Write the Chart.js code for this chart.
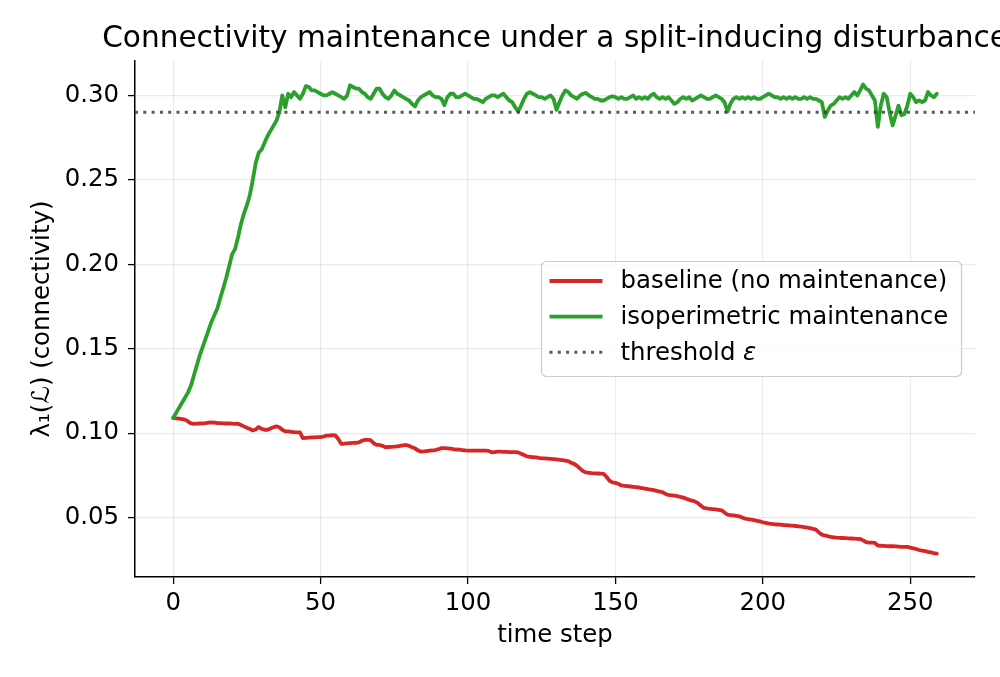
<!DOCTYPE html>
<html>
<head>
<meta charset="utf-8">
<title>Connectivity maintenance</title>
<script src="https://cdn.jsdelivr.net/npm/chart.js@4.4.1/dist/chart.umd.min.js"></script>
<style>
  html, body { margin: 0; padding: 0; background: #fff; }
  canvas { display: block; }
</style>
</head>
<body>
<canvas id="grafico" width="1000" height="677"></canvas>
<script>
// values, one per time step (0..259)
var baseline = [
  0.1090, 0.1088, 0.1086, 0.1083, 0.1080, 0.1070, 0.1058, 0.1055, 0.1056, 0.1057,
  0.1058, 0.1059, 0.1062, 0.1063, 0.1062, 0.1060, 0.1059, 0.1058, 0.1057, 0.1057,
  0.1056, 0.1055, 0.1056, 0.1048, 0.1040, 0.1032, 0.1025, 0.1016, 0.1022, 0.1036,
  0.1025, 0.1020, 0.1020, 0.1028, 0.1035, 0.1040, 0.1035, 0.1020, 0.1010, 0.1010,
  0.1008, 0.1006, 0.1005, 0.1004, 0.0970, 0.0972, 0.0974, 0.0975, 0.0975, 0.0976,
  0.0976, 0.0980, 0.0985, 0.0986, 0.0988, 0.0986, 0.0965, 0.0937, 0.0938, 0.0940,
  0.0941, 0.0942, 0.0943, 0.0945, 0.0955, 0.0960, 0.0960, 0.0958, 0.0940, 0.0930,
  0.0930, 0.0925, 0.0917, 0.0918, 0.0919, 0.0920, 0.0922, 0.0925, 0.0928, 0.0930,
  0.0925, 0.0917, 0.0910, 0.0898, 0.0891, 0.0892, 0.0894, 0.0896, 0.0898, 0.0900,
  0.0905, 0.0911, 0.0911, 0.0910, 0.0908, 0.0905, 0.0903, 0.0902, 0.0900, 0.0898,
  0.0897, 0.0897, 0.0897, 0.0897, 0.0897, 0.0897, 0.0897, 0.0895, 0.0886, 0.0888,
  0.0890, 0.0890, 0.0889, 0.0889, 0.0888, 0.0888, 0.0887, 0.0886, 0.0878, 0.0870,
  0.0862, 0.0860, 0.0858, 0.0856, 0.0853, 0.0851, 0.0850, 0.0849, 0.0848, 0.0846,
  0.0844, 0.0842, 0.0840, 0.0837, 0.0834, 0.0825, 0.0818, 0.0806, 0.0790, 0.0775,
  0.0767, 0.0765, 0.0763, 0.0762, 0.0761, 0.0760, 0.0759, 0.0740, 0.0718, 0.0708,
  0.0705, 0.0700, 0.0690, 0.0688, 0.0686, 0.0684, 0.0682, 0.0680, 0.0678, 0.0675,
  0.0672, 0.0668, 0.0665, 0.0662, 0.0658, 0.0654, 0.0650, 0.0640, 0.0634, 0.0632,
  0.0630, 0.0627, 0.0622, 0.0618, 0.0612, 0.0605, 0.0600, 0.0595, 0.0585, 0.0570,
  0.0557, 0.0554, 0.0552, 0.0550, 0.0548, 0.0546, 0.0543, 0.0530, 0.0517, 0.0515,
  0.0513, 0.0510, 0.0507, 0.0500, 0.0494, 0.0491, 0.0488, 0.0485, 0.0481, 0.0477,
  0.0472, 0.0468, 0.0464, 0.0462, 0.0460, 0.0459, 0.0458, 0.0456, 0.0455, 0.0453,
  0.0452, 0.0450, 0.0448, 0.0446, 0.0444, 0.0441, 0.0437, 0.0433, 0.0429, 0.0412,
  0.0399, 0.0394, 0.0390, 0.0385, 0.0383, 0.0381, 0.0380, 0.0379, 0.0378, 0.0377,
  0.0376, 0.0375, 0.0374, 0.0373, 0.0365, 0.0354, 0.0352, 0.0351, 0.0350, 0.0334,
  0.0333, 0.0332, 0.0331, 0.0330, 0.0330, 0.0329, 0.0328, 0.0327, 0.0326, 0.0326,
  0.0322, 0.0318, 0.0314, 0.0308, 0.0304, 0.0301, 0.0297, 0.0294, 0.0290, 0.0287
];

var isoperimetric = [
  0.1090, 0.1120, 0.1150, 0.1180, 0.1210, 0.1240, 0.1280, 0.1340, 0.1400, 0.1460,
  0.1510, 0.1560, 0.1610, 0.1660, 0.1700, 0.1740, 0.1800, 0.1860, 0.1920, 0.1990,
  0.2060, 0.2090, 0.2160, 0.2240, 0.2300, 0.2350, 0.2410, 0.2500, 0.2600, 0.2660,
  0.2680, 0.2720, 0.2760, 0.2790, 0.2820, 0.2850, 0.2900, 0.3000, 0.2930, 0.3010,
  0.2990, 0.3020, 0.3000, 0.2980, 0.3010, 0.3055, 0.3050, 0.3030, 0.3030, 0.3020,
  0.3010, 0.3000, 0.3000, 0.3010, 0.3020, 0.3010, 0.3000, 0.2990, 0.2980, 0.3000,
  0.3060, 0.3050, 0.3040, 0.3040, 0.3020, 0.3010, 0.2990, 0.2980, 0.3010, 0.3040,
  0.3040, 0.3010, 0.2990, 0.2980, 0.3000, 0.3030, 0.3010, 0.3000, 0.2990, 0.2980,
  0.2970, 0.2950, 0.2935, 0.2970, 0.2990, 0.3000, 0.3010, 0.3020, 0.3000, 0.2990,
  0.2990, 0.2980, 0.2943, 0.2990, 0.3010, 0.3010, 0.2990, 0.2990, 0.3000, 0.3010,
  0.3000, 0.2990, 0.2980, 0.2980, 0.2970, 0.2960, 0.2980, 0.2990, 0.3000, 0.3000,
  0.2990, 0.3000, 0.3010, 0.2990, 0.2970, 0.2960, 0.2930, 0.2905, 0.2940, 0.2980,
  0.3010, 0.3020, 0.3010, 0.3000, 0.2990, 0.2990, 0.2980, 0.2990, 0.3000, 0.2980,
  0.2915, 0.2960, 0.3000, 0.3030, 0.3020, 0.3000, 0.2990, 0.2980, 0.3000, 0.3010,
  0.3015, 0.3000, 0.2990, 0.2980, 0.2980, 0.2970, 0.2970, 0.2980, 0.2990, 0.2995,
  0.2990, 0.2980, 0.2990, 0.2980, 0.2980, 0.2990, 0.3000, 0.2980, 0.2990, 0.2980,
  0.2990, 0.2980, 0.3000, 0.3010, 0.2990, 0.2980, 0.2990, 0.2980, 0.2990, 0.2970,
  0.2950, 0.2960, 0.2980, 0.2990, 0.2980, 0.2990, 0.2970, 0.2980, 0.2990, 0.3000,
  0.2990, 0.2980, 0.2980, 0.2990, 0.3000, 0.2990, 0.2980, 0.2960, 0.2905, 0.2950,
  0.2980, 0.2990, 0.2980, 0.2990, 0.2980, 0.2990, 0.2980, 0.2990, 0.2980, 0.2980,
  0.2990, 0.3000, 0.3010, 0.3000, 0.2990, 0.2990, 0.2980, 0.2990, 0.2980, 0.2990,
  0.2980, 0.2990, 0.2980, 0.2980, 0.2990, 0.2980, 0.2990, 0.2980, 0.2980, 0.2970,
  0.2960, 0.2873, 0.2910, 0.2940, 0.2950, 0.2970, 0.2990, 0.2980, 0.2990, 0.2980,
  0.3000, 0.3020, 0.3000, 0.3030, 0.3065, 0.3040, 0.3030, 0.3000, 0.2970, 0.2814,
  0.2940, 0.3010, 0.2990, 0.2900, 0.2823, 0.2880, 0.2940, 0.2883, 0.2890, 0.2940,
  0.3010, 0.2990, 0.2960, 0.2970, 0.2960, 0.2970, 0.3020, 0.3000, 0.2990, 0.3010
];

var threshold = 0.29;
var xTicks = [0, 50, 100, 150, 200, 250];
var yTicks = [0.05, 0.10, 0.15, 0.20, 0.25, 0.30];
var seriesLabels = ['baseline (no maintenance)', 'isoperimetric maintenance', 'threshold \u03b5'];

var xMin = -12.95, xMax = 271.95;
var yMin = 0.0148, yMax = 0.3204;

var steps = baseline.map(function (v, i) { return i; });

function puntos(valores) {
  return valores.map(function (v, i) { return { x: steps[i], y: v }; });
}

// title centred over the axes, like matplotlib (it runs off the right edge)
var tituloPlugin = {
  id: 'tituloPlugin',
  afterDraw: function (chart) {
    var ctx = chart.ctx, a = chart.chartArea;
    ctx.save();
    ctx.font = '29.6px "DejaVu Sans"';
    ctx.fillStyle = '#000';
    ctx.textAlign = 'center';
    ctx.textBaseline = 'alphabetic';
    ctx.fillText('Connectivity maintenance under a split-inducing disturbance', (a.left + a.right) / 2, 46.5);
    ctx.restore();
  }
};

// legend box at "center right" of the axes
var leyendaPlugin = {
  id: 'leyendaPlugin',
  afterDatasetsDraw: function (chart) {
    var ctx = chart.ctx, a = chart.chartArea;
    var w = 420, h = 115;
    var x = a.right - 13.5 - w;
    var y = (a.top + a.bottom) / 2 - h / 2;
    ctx.save();
    ctx.beginPath();
    ctx.roundRect(x, y, w, h, 5);
    ctx.fillStyle = 'rgba(255,255,255,0.8)';
    ctx.fill();
    ctx.strokeStyle = '#cccccc';
    ctx.lineWidth = 1.2;
    ctx.stroke();
    ctx.textBaseline = 'middle';
    ctx.fillStyle = '#000';
    chart.data.datasets.forEach(function (ds, i) {
      var cy = y + 19.5 + i * 35.6;
      ctx.beginPath();
      ctx.setLineDash(ds.borderDash || []);
      ctx.strokeStyle = ds.borderColor;
      ctx.lineWidth = ds.borderWidth;
      ctx.moveTo(x + 8, cy);
      ctx.lineTo(x + 61, cy);
      ctx.stroke();
      ctx.setLineDash([]);
      var texto = ds.label;
      var griega = '';
      if (texto.slice(-1) === '\u03b5') {
        griega = '\u03b5';
        texto = texto.slice(0, -1);
      }
      ctx.font = '24.4px "DejaVu Sans"';
      ctx.fillText(texto, x + 79, cy + 1);
      if (griega) {
        var ancho = ctx.measureText(texto).width;
        ctx.font = 'italic 24.4px "DejaVu Sans"';
        ctx.fillText(griega, x + 79 + ancho, cy + 1);
      }
    });
    ctx.restore();
  }
};

Chart.defaults.font.family = '"DejaVu Sans"';
Chart.defaults.color = '#000';

var ctx = document.getElementById('grafico').getContext('2d');
var myChart = new Chart(ctx, {
  type: 'line',
  data: {
    datasets: [{
      label: seriesLabels[0],
      data: puntos(baseline),
      borderColor: '#d62728',
      borderWidth: 3.8,
      pointRadius: 0,
      borderJoinStyle: 'round',
      borderCapStyle: 'round',
      order: 3
    }, {
      label: seriesLabels[1],
      data: puntos(isoperimetric),
      borderColor: '#2ca02c',
      borderWidth: 3.8,
      pointRadius: 0,
      borderJoinStyle: 'round',
      borderCapStyle: 'round',
      order: 2
    }, {
      label: seriesLabels[2],
      data: [{ x: xMin, y: threshold }, { x: xMax, y: threshold }],
      borderColor: 'rgba(60,60,60,0.85)',
      borderWidth: 3,
      borderDash: [3, 5.3],
      pointRadius: 0,
      order: 1
    }]
  },
  options: {
    responsive: false,
    animation: false,
    devicePixelRatio: 1,
    layout: { padding: { top: 61, right: 25, bottom: 0, left: 0 } },
    plugins: {
      legend: { display: false },
      tooltip: { enabled: false }
    },
    scales: {
      x: {
        type: 'linear',
        min: xMin,
        max: xMax,
        afterBuildTicks: function (scale) {
          scale.ticks = xTicks.map(function (v) { return { value: v }; });
        },
        afterFit: function (scale) { scale.height = 100; },
        ticks: {
          font: { size: 24.4 },
          color: '#000',
          padding: 5,
          maxRotation: 0,
          callback: function (v) { return String(v); }
        },
        grid: {
          color: 'rgba(0,0,0,0.08)',
          lineWidth: 1.2,
          tickColor: '#000',
          tickLength: 7,
          tickWidth: 1.3
        },
        border: { display: true, color: '#000', width: 1.5 },
        title: {
          display: true,
          text: 'time step',
          font: { size: 24.4 },
          color: '#000',
          padding: { top: 0, bottom: 27 }
        }
      },
      y: {
        type: 'linear',
        min: yMin,
        max: yMax,
        afterBuildTicks: function (scale) {
          scale.ticks = yTicks.map(function (v) { return { value: v }; });
        },
        afterFit: function (scale) { scale.width = 135; },
        ticks: {
          font: { size: 24.4 },
          color: '#000',
          padding: 9,
          callback: function (v) { return v.toFixed(2); }
        },
        grid: {
          color: 'rgba(0,0,0,0.08)',
          lineWidth: 1.2,
          tickColor: '#000',
          tickLength: 7,
          tickWidth: 1.3
        },
        border: { display: true, color: '#000', width: 1.5 },
        title: {
          display: true,
          text: '\u03bb\u2081(\u2112) (connectivity)',
          font: { size: 24.4 },
          color: '#000',
          padding: { top: 28, bottom: 0 }
        }
      }
    }
  },
  plugins: [tituloPlugin, leyendaPlugin]
});
</script>
</body>
</html>
